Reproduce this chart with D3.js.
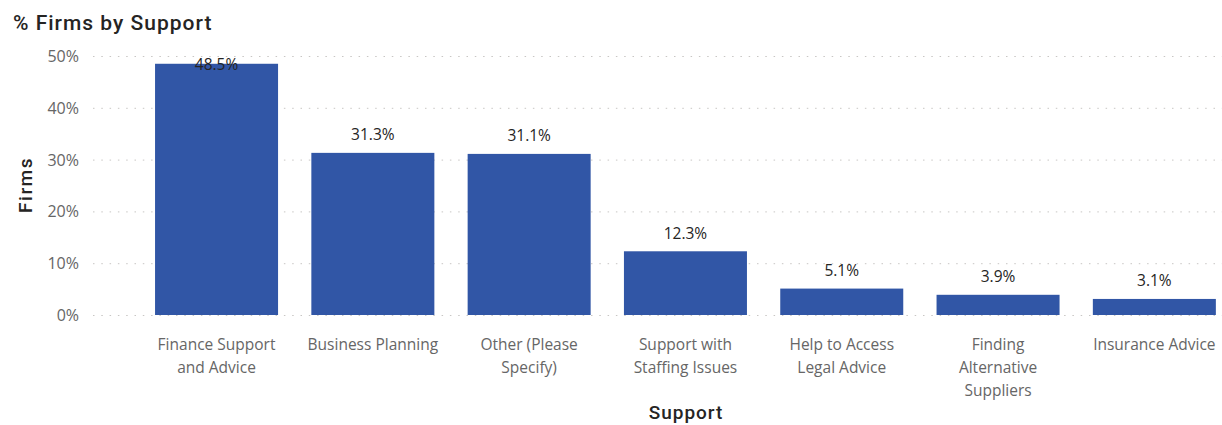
<!DOCTYPE html>
<html>
<head>
<meta charset="utf-8">
<script src="https://cdn.jsdelivr.net/npm/d3@7"></script>
<style>
  html, body { margin: 0; padding: 0; background: #fff; }
  svg { display: block; }
</style>
</head>
<body>
<svg id="chart" width="1222" height="425"></svg>
<script>
// Share of firms asking for each kind of support
const categories = [
  "Finance Support and Advice",
  "Business Planning",
  "Other (Please Specify)",
  "Support with Staffing Issues",
  "Help to Access Legal Advice",
  "Finding Alternative Suppliers",
  "Insurance Advice"
];
const tickLabels = [
  ["Finance Support", "and Advice"],
  ["Business Planning"],
  ["Other (Please", "Specify)"],
  ["Support with", "Staffing Issues"],
  ["Help to Access", "Legal Advice"],
  ["Finding", "Alternative", "Suppliers"],
  ["Insurance Advice"]
];
const firmsPct = [48.5, 31.3, 31.1, 12.3, 5.1, 3.9, 3.1];
const yTicks = [0, 10, 20, 30, 40, 50];

const svg = d3.select("#chart");
const uiFont = "'Open Sans', 'Noto Sans', sans-serif";
const headFont = "'Roboto', 'DejaVu Sans', sans-serif";

const x = d3.scaleBand()
  .domain(categories)
  .range([138.4, 1232.5])
  .paddingInner(0.213)
  .paddingOuter(0.1065);

const y = d3.scaleLinear()
  .domain([0, 50])
  .range([315, 56]);

// Title
svg.append("text")
  .attr("x", 13).attr("y", 30)
  .attr("font-family", headFont)
  .attr("font-weight", 500)
  .attr("font-size", 21)
  .attr("letter-spacing", 1)
  .attr("fill", "#252423")
  .text("% Firms by Support");

// Gridlines
svg.append("g")
  .selectAll("line")
  .data(yTicks)
  .join("line")
  .attr("x1", 93).attr("x2", 1222)
  .attr("y1", d => y(d) + 0.5).attr("y2", d => y(d) + 0.5)
  .attr("stroke", "#c8c6c4")
  .attr("stroke-width", 1)
  .attr("stroke-dasharray", "1.5,6.8");

// Y axis
const yAxis = svg.append("g")
  .attr("transform", "translate(79,0)")
  .call(d3.axisLeft(y).tickValues(yTicks).tickFormat(d => d + "%").tickSize(0).tickPadding(0));
yAxis.select(".domain").remove();
yAxis.selectAll("text")
  .attr("font-family", uiFont)
  .attr("font-size", 16)
  .attr("fill", "#666666")
  .attr("dy", "0.34em");

// Y axis title
svg.append("text")
  .attr("transform", "translate(32,185) rotate(-90)")
  .attr("text-anchor", "middle")
  .attr("font-family", headFont)
  .attr("font-weight", 500)
  .attr("font-size", 19)
  .attr("letter-spacing", 1.5)
  .attr("fill", "#252423")
  .text("Firms");

// Bars
svg.append("g")
  .selectAll("rect")
  .data(firmsPct)
  .join("rect")
  .attr("x", (d, i) => x(categories[i]))
  .attr("width", x.bandwidth())
  .attr("y", d => y(d))
  .attr("height", d => y(0) - y(d))
  .attr("fill", "#3156a6");

// Value labels sit above each bar, kept inside the plot at the top
svg.append("g")
  .selectAll("text")
  .data(firmsPct)
  .join("text")
  .attr("x", (d, i) => x(categories[i]) + x.bandwidth() / 2)
  .attr("y", d => Math.max(y(d) - 18, y(50) + 9))
  .attr("dy", "0.35em")
  .attr("text-anchor", "middle")
  .attr("font-family", uiFont)
  .attr("font-size", 15.5)
  .attr("fill", "#252423")
  .text(d => d.toFixed(1) + "%");

// X axis category labels
const xLab = svg.append("g")
  .selectAll("text")
  .data(categories)
  .join("text")
  .attr("x", d => x(d) + x.bandwidth() / 2)
  .attr("y", 350)
  .attr("text-anchor", "middle")
  .attr("font-family", uiFont)
  .attr("font-size", 15.5)
  .attr("fill", "#666666");
xLab.selectAll("tspan")
  .data((d, i) => tickLabels[i])
  .join("tspan")
  .attr("x", function () { return this.parentNode.getAttribute("x"); })
  .attr("dy", (d, j) => (j === 0 ? 0 : 23))
  .text(d => d);

// X axis title
svg.append("text")
  .attr("x", 686).attr("y", 419)
  .attr("text-anchor", "middle")
  .attr("font-family", headFont)
  .attr("font-weight", 500)
  .attr("font-size", 19)
  .attr("letter-spacing", 1)
  .attr("fill", "#252423")
  .text("Support");
</script>
</body>
</html>
